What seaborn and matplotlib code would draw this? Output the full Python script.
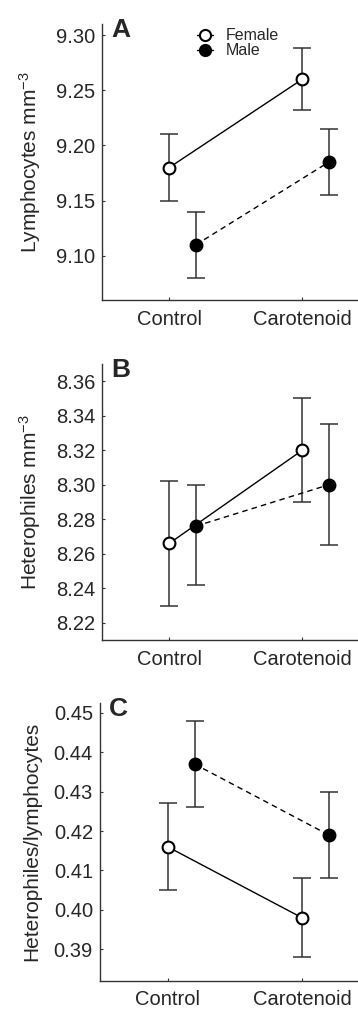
import matplotlib
matplotlib.use("Agg")
import matplotlib.pyplot as plt
import seaborn as sns
import pandas as pd
import numpy as np
from matplotlib.lines import Line2D
from matplotlib.transforms import offset_copy

sns.set_style("ticks")
plt.rcParams['font.family'] = ['Liberation Sans', 'DejaVu Sans']
plt.rcParams['mathtext.fontset'] = 'custom'
plt.rcParams['mathtext.rm'] = 'Liberation Sans'
plt.rcParams['mathtext.it'] = 'Liberation Sans:italic'

categories = ["Control", "Carotenoid"]
sexes = ["Female", "Male"]

# Panel A: Lymphocytes
a_female = [9.180, 9.260]
a_female_lo = [9.150, 9.232]
a_female_hi = [9.210, 9.288]
a_male = [9.110, 9.185]
a_male_lo = [9.080, 9.155]
a_male_hi = [9.140, 9.215]

# Panel B: Heterophiles
b_female = [8.266, 8.320]
b_female_lo = [8.230, 8.290]
b_female_hi = [8.302, 8.350]
b_male = [8.276, 8.300]
b_male_lo = [8.242, 8.265]
b_male_hi = [8.300, 8.335]

# Panel C: H/L ratio
c_female = [0.416, 0.398]
c_female_lo = [0.405, 0.388]
c_female_hi = [0.427, 0.408]
c_male = [0.437, 0.419]
c_male_lo = [0.426, 0.408]
c_male_hi = [0.448, 0.430]

a_ticks = [9.10, 9.15, 9.20, 9.25, 9.30]
b_ticks = [8.22, 8.24, 8.26, 8.28, 8.30, 8.32, 8.34, 8.36]
c_ticks = [0.39, 0.40, 0.41, 0.42, 0.43, 0.44, 0.45]

panels = [
    dict(letter="A", ylabel="Lymphocytes mm$^{-3}$", f=a_female, flo=a_female_lo, fhi=a_female_hi,
         m=a_male, mlo=a_male_lo, mhi=a_male_hi, ticks=a_ticks, ylim=(9.06, 9.31), fmt="%.2f",
         rect=[0.285, 0.7027, 0.712, 0.2735], legend=True),
    dict(letter="B", ylabel="Heterophiles mm$^{-3}$", f=b_female, flo=b_female_lo, fhi=b_female_hi,
         m=b_male, mlo=b_male_lo, mhi=b_male_hi, ticks=b_ticks, ylim=(8.21, 8.37), fmt="%.2f",
         rect=[0.285, 0.3657, 0.712, 0.2736], legend=False),
    dict(letter="C", ylabel="Heterophiles/lymphocytes", f=c_female, flo=c_female_lo, fhi=c_female_hi,
         m=c_male, mlo=c_male_lo, mhi=c_male_hi, ticks=c_ticks, ylim=(0.382, 0.4525), fmt="%.2f",
         rect=[0.279, 0.028, 0.718, 0.2753], legend=False),
]

offset = {"Female": 0.0, "Male": 0.2}
styles = {"Female": dict(ls="-", mfc="white"), "Male": dict(ls=(0, (4, 3)), mfc="black")}

fig = plt.figure(figsize=(3.58, 10.09), dpi=100)
for p in panels:
    ax = fig.add_axes(p["rect"])
    rows = []
    for sex, vals, lo, hi in [("Female", p["f"], p["flo"], p["fhi"]), ("Male", p["m"], p["mlo"], p["mhi"])]:
        for i, c in enumerate(categories):
            rows.append(dict(sex=sex, cat=c, pos=i + offset[sex], val=vals[i], lo=lo[i], hi=hi[i]))
    df = pd.DataFrame(rows)
    for sex in sexes:
        d = df[df.sex == sex]
        ax.errorbar(d.pos, d.val, yerr=[d.val - d.lo, d.hi - d.val], fmt="none",
                    ecolor="#333333", elinewidth=1.1, capsize=6.5, capthick=1.1, zorder=2)
    for sex in sexes:
        d = df[df.sex == sex]
        sns.lineplot(data=d, x="pos", y="val", ax=ax, color="black", linewidth=1.0,
                     linestyle=styles[sex]["ls"], marker="o", markersize=8.5,
                     markerfacecolor=styles[sex]["mfc"], markeredgecolor="black",
                     markeredgewidth=1.5, zorder=3, legend=False)
    ax.set_xlim(-0.505, 1.41)
    ax.set_ylim(*p["ylim"])
    ax.set_xticks([0, 1])
    ax.set_xticklabels(categories)
    ax.set_yticks(p["ticks"])
    ax.set_yticklabels([p["fmt"] % t for t in p["ticks"]])
    ax.set_xlabel("")
    ax.set_ylabel(p["ylabel"], fontsize=15, labelpad=9)
    ax.tick_params(direction="in", length=2.5, width=0.8, labelsize=14.5, color="#333333")
    ax.tick_params(axis="y", pad=5)
    ax.tick_params(axis="x", pad=7)
    for s in ["top", "right"]:
        ax.spines[s].set_visible(False)
    for s in ["left", "bottom"]:
        ax.spines[s].set_color("#333333")
        ax.spines[s].set_linewidth(1.0)
    tr = offset_copy(ax.transAxes, fig=fig, x=0, y=6, units="dots")
    ax.text(0.035, 1.0, p["letter"], transform=tr, fontsize=19, fontweight="bold",
            va="top", ha="left")
    if p["legend"]:
        handles = [Line2D([], [], color="black", lw=1.0, marker="o", markersize=8, markerfacecolor="white",
                          markeredgecolor="black", markeredgewidth=1.5),
                   Line2D([], [], color="black", lw=1.0, marker="o", markersize=8, markerfacecolor="black",
                          markeredgecolor="black", markeredgewidth=1.5)]
        ax.legend(handles, sexes, loc="upper left", bbox_to_anchor=(0.33, 1.025), frameon=False,
                  fontsize=11.5, handlelength=1.0, handletextpad=0.75, labelspacing=0.0,
                  borderpad=0.2)

fig.savefig("out.png", dpi=100)
